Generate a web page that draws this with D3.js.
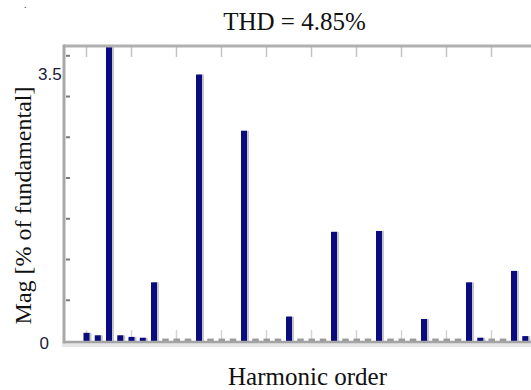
<!DOCTYPE html>
<html>
<head>
<meta charset="utf-8">
<script src="https://cdnjs.cloudflare.com/ajax/libs/d3/7.8.5/d3.min.js"></script>
<style>
  html, body { margin: 0; padding: 0; background: #fff; }
  svg { display: block; }
</style>
</head>
<body>
<div id="chart"></div>
<script>
var width = 531,
    height = 390;

// harmonic orders (half-order steps) and magnitudes in % of fundamental
var orders = [0, 0.5, 1, 1.5, 2, 2.5, 3, 3.5, 4, 4.5,
              5, 5.5, 6, 6.5, 7, 7.5, 8, 8.5, 9, 9.5,
              10, 10.5, 11, 11.5, 12, 12.5, 13, 13.5, 14, 14.5,
              15, 15.5, 16, 16.5, 17, 17.5, 18, 18.5, 19, 19.5];
var mags = [0.10, 0.07, 100, 0.07, 0.05, 0.04, 0.72, 0.03, 0.03, 0.03,
            3.27, 0.03, 0.03, 0.03, 2.58, 0.03, 0.03, 0.03, 0.30, 0.03,
            0.03, 0.03, 1.34, 0.03, 0.03, 0.03, 1.35, 0.03, 0.03, 0.03,
            0.27, 0.03, 0.03, 0.03, 0.72, 0.04, 0.03, 0.03, 0.86, 0.06];
var yTicks = [0.5, 1, 1.5, 2, 2.5, 3, 3.5];
var yLabels = [0, 3.5];
var xTicks = [0, 2, 4, 6, 8, 10, 12, 14, 16, 18, 20];

var data = orders.map(function(o, i) { return {order: o, mag: mags[i]}; });

var pLeft = 64, pTop = 46, pBottom = 341, pRight = 559;

var x = d3.scaleLinear().domain([-1, 21]).range([pLeft, pRight]);
var y = d3.scaleLinear().domain([0, 3.62]).range([pBottom, pTop]);

function isStub(d) { return d.mag < 0.035; }

var svg = d3.select("#chart")
    .append("svg")
    .attr("width", width)
    .attr("height", height)
    .style("font-family", "'Liberation Serif', 'Times New Roman', serif");

svg.append("clipPath").attr("id", "plot")
    .append("rect")
    .attr("x", pLeft).attr("y", pTop)
    .attr("width", pRight - pLeft).attr("height", pBottom - pTop);

// stray mark in the top-left corner
svg.append("text")
    .attr("x", 24).attr("y", 8)
    .attr("font-size", 10)
    .attr("fill", "#333")
    .text(".");

svg.append("text")
    .attr("x", 294.5).attr("y", 30)
    .attr("text-anchor", "middle")
    .attr("font-size", 25)
    .attr("fill", "#111")
    .text("THD = 4.85%");

svg.append("text")
    .attr("x", 307.5).attr("y", 385)
    .attr("text-anchor", "middle")
    .attr("font-size", 25)
    .attr("fill", "#111")
    .text("Harmonic order");

svg.append("text")
    .attr("transform", "translate(31,205.5) rotate(-90)")
    .attr("text-anchor", "middle")
    .attr("font-size", 24)
    .attr("fill", "#111")
    .text("Mag [% of fundamental]");

// light band under the bottom axis
svg.append("rect")
    .attr("x", pLeft - 2).attr("y", pBottom + 1)
    .attr("width", width).attr("height", 5)
    .attr("fill", "#e6e6e6");

var g = svg.append("g").attr("clip-path", "url(#plot)");

// x ticks at top and bottom
g.selectAll(".xt-top")
    .data(xTicks)
    .enter().append("line")
    .attr("x1", function(d) { return x(d); })
    .attr("x2", function(d) { return x(d); })
    .attr("y1", pTop).attr("y2", pTop + 11)
    .attr("stroke", "#c4c4c4")
    .attr("stroke-width", 1.5);

g.selectAll(".xt-bot")
    .data(xTicks)
    .enter().append("line")
    .attr("x1", function(d) { return x(d); })
    .attr("x2", function(d) { return x(d); })
    .attr("y1", pBottom - 11).attr("y2", pBottom)
    .attr("stroke", "#d4d4d4")
    .attr("stroke-width", 1.5);

// bar shadows
g.selectAll(".shadow")
    .data(data.filter(function(d) { return !isStub(d); }))
    .enter().append("rect")
    .attr("x", function(d) { return x(d.order) - 1; })
    .attr("y", function(d) { return y(d.mag); })
    .attr("width", 6)
    .attr("height", function(d) { return pBottom - y(d.mag); })
    .attr("fill", "#c6c6c6");

g.selectAll(".bar")
    .data(data)
    .enter().append("rect")
    .attr("x", function(d) { return x(d.order) - 3; })
    .attr("y", function(d) { return y(d.mag); })
    .attr("width", function(d) { return isStub(d) ? 6.5 : 6; })
    .attr("height", function(d) { return pBottom - y(d.mag); })
    .attr("fill", function(d) { return isStub(d) ? "#9a9a9a" : "#0b0b80"; });

// frame
svg.append("line")
    .attr("x1", pLeft).attr("x2", width)
    .attr("y1", pTop).attr("y2", pTop)
    .attr("stroke", "#b0b0b0").attr("stroke-width", 3);
svg.append("line")
    .attr("x1", pLeft).attr("x2", width)
    .attr("y1", pBottom + 1).attr("y2", pBottom + 1)
    .attr("stroke", "#a4a4a4").attr("stroke-width", 2.5);
svg.append("line")
    .attr("x1", pLeft).attr("x2", pLeft)
    .attr("y1", pTop - 1.5).attr("y2", pBottom + 2.5)
    .attr("stroke", "#a8a8a8").attr("stroke-width", 3);

// y ticks
svg.selectAll(".yt")
    .data(yTicks)
    .enter().append("line")
    .attr("x1", pLeft + 2).attr("x2", pLeft + 6)
    .attr("y1", function(d) { return y(d); })
    .attr("y2", function(d) { return y(d); })
    .attr("stroke", "#7a7a7a")
    .attr("stroke-width", 2);

svg.selectAll(".yl")
    .data(yLabels)
    .enter().append("text")
    .attr("x", function(d) { return d ? 38 : 39.5; })
    .attr("y", function(d) { return y(d); })
    .attr("dy", function(d) { return d ? "1.45em" : "0.45em"; })
    .attr("font-family", "'Liberation Sans', Arial, sans-serif")
    .attr("font-size", 17)
    .attr("fill", "#1a1a3a")
    .text(function(d) { return d; });
</script>
</body>
</html>
